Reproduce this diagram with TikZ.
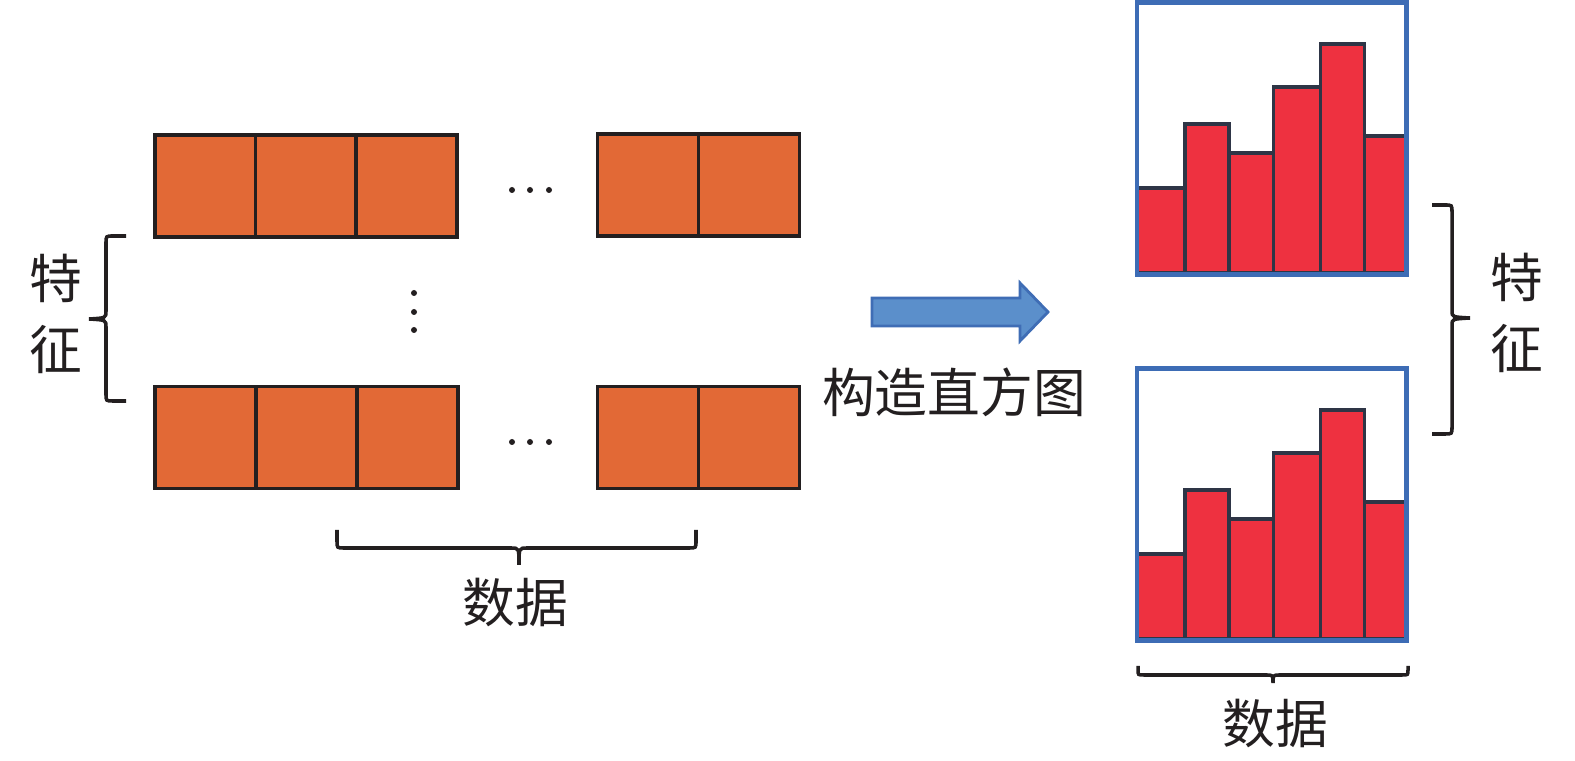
\documentclass[tikz,border=0pt]{standalone}
\usepackage{fontspec}
\newfontfamily\cjk{Noto Sans CJK SC}
\definecolor{edge}{HTML}{231F20}
\definecolor{orng}{HTML}{E26936}
\definecolor{arrfill}{HTML}{5B8FCB}
\definecolor{arrline}{HTML}{3F6DB5}
\definecolor{barred}{HTML}{EE3140}
\definecolor{navy}{HTML}{2E3546}
\definecolor{boxblue}{HTML}{3D6CB5}
\tikzset{
  cell/.style={draw=edge, fill=orng, line width=1.05pt, minimum width=1.01cm, minimum height=1.02cm, inner sep=0pt, outer sep=0pt},
  lab/.style={font=\cjk\fontsize{15}{20}\selectfont, inner sep=0pt, align=center, text=edge},
  br/.style={draw=edge, line width=1pt},
  bar/.style={draw=navy, fill=barred, line width=1.05pt},
  hbox/.style={draw=boxblue, line width=1.2pt},
  bigarrow/.style={draw=arrline, fill=arrfill, line width=0.8pt},
  dotf/.style={fill=edge}
}
\begin{document}
\begin{tikzpicture}[x=0.01cm,y=-0.01cm]
\useasboundingbox (0,0) rectangle (1575,761);
% top row
\node[cell] (t1) at (205.5,186) {};
\node[cell] (t2) at (306,186) {};
\node[cell] (t3) at (406.5,186) {};
\node[cell] (t4) at (648,185) {};
\node[cell] (t5) at (749,185) {};
% bottom row
\node[cell] (b1) at (205.5,437.5) {};
\node[cell] (b2) at (306.5,437.5) {};
\node[cell] (b3) at (407.5,437.5) {};
\node[cell] (b4) at (648,437.5) {};
\node[cell] (b5) at (749,437.5) {};
% dots
\foreach \x in {512,530,549} {
  \fill[dotf] (\x,190) circle (3);
  \fill[dotf] (\x,442) circle (3);
}
\foreach \y in {293,312,330} {
  \fill[dotf] (414,\y) circle (3);
}
% left brace
\draw[br] (126,236) -- (113,236) .. controls (106,236) .. (106,243) -- (106,311)
  .. controls (106,318) .. (89,319) .. controls (106,320) .. (106,327) -- (106,394)
  .. controls (106,401) .. (113,401) -- (126,401);
\node[lab] (featL) at (56,314) {特\\征};
% bottom left brace
\draw[br] (337,530) -- (337,541) .. controls (337,548) .. (344,548) -- (511,548)
  .. controls (519,548) .. (519,565) .. controls (519,548) .. (527,548) -- (689,548)
  .. controls (696,548) .. (696,541) -- (696,530);
\node[lab] (dataL) at (515,603) {数据};
% arrow
\draw[bigarrow] (872,298) -- (1020,298) -- (1020,283) -- (1048,312) -- (1020,341)
  -- (1020,326) -- (872,326) -- cycle;
\node[lab] (build) at (954,392) {构造直方图};
% histograms
\foreach \dy in {0,366} {
  \begin{scope}[yshift=-\dy*0.01cm]
    \draw[bar] (1137,273) rectangle (1185,188);
    \draw[bar] (1185,273) rectangle (1229,124);
    \draw[bar] (1229,273) rectangle (1273.5,153);
    \draw[bar] (1273.5,273) rectangle (1320.5,87);
    \draw[bar] (1320.5,273) rectangle (1364.5,44);
    \draw[bar] (1364.5,273) rectangle (1406,136);
    \draw[hbox] (1137,2.5) rectangle (1406.5,274.5);
  \end{scope}
}
% right brace
\draw[br] (1432,205) -- (1445,205) .. controls (1452,205) .. (1452,212) -- (1452,311)
  .. controls (1452,317) .. (1470,318) .. controls (1452,319) .. (1452,325) -- (1452,427)
  .. controls (1452,434) .. (1445,434) -- (1432,434);
\node[lab] (featR) at (1517,313) {特\\征};
% bottom right brace
\draw[br] (1138,666) -- (1138,670) .. controls (1138,675) .. (1144,675) -- (1266,675)
  .. controls (1273,675) .. (1273,683) .. controls (1273,675) .. (1280,675) -- (1402,675)
  .. controls (1408,675) .. (1408,670) -- (1408,666);
\node[lab] (dataR) at (1275,724) {数据};
\end{tikzpicture}
\end{document}
